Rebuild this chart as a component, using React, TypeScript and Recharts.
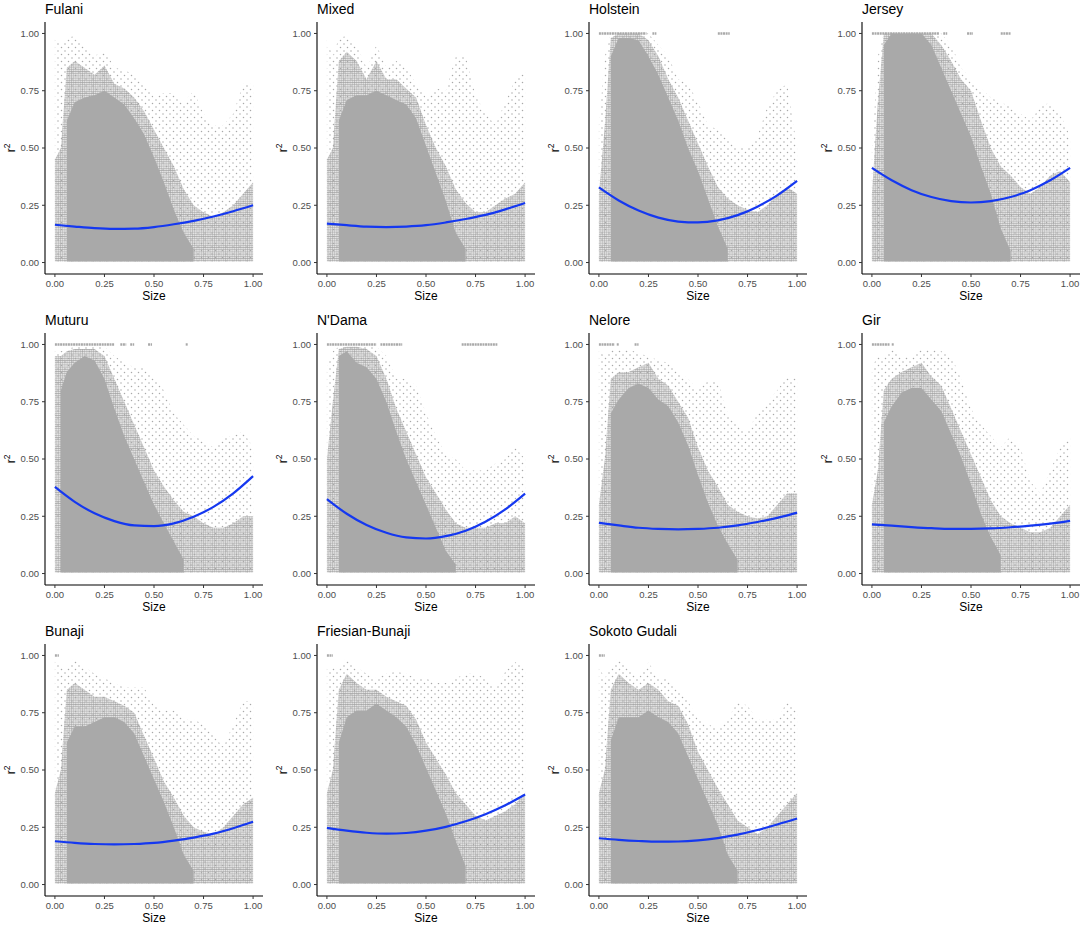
import React from 'react';
import { ComposedChart, Area, Line, XAxis, YAxis, ReferenceLine } from 'recharts';

const FONT = '"Liberation Sans", Arial, Helvetica, sans-serif';
const N = null;

// x positions (Size) at which the cloud envelopes were read
const sizeGrid = [0, 0.03, 0.06, 0.1, 0.15, 0.2, 0.25, 0.3, 0.35, 0.4, 0.45, 0.5, 0.55, 0.6, 0.65, 0.7, 0.75, 0.8, 0.85, 0.9, 0.95, 1.0];
// x positions at which the fitted curve was read
const fitGrid = [0, 0.1, 0.2, 0.3, 0.4, 0.5, 0.6, 0.7, 0.8, 0.9, 1.0];
const axisTicks = [0, 0.25, 0.5, 0.75, 1];

const breeds = ['Fulani', 'Mixed', 'Holstein', 'Jersey', 'Muturu', "N'Dama", 'Nelore', 'Gir', 'Bunaji', 'Friesian-Bunaji', 'Sokoto Gudali'];

// Fulani
const fulaniDense = [N, N, 0.62, 0.70, 0.72, 0.73, 0.75, 0.72, 0.69, 0.63, 0.56, 0.46, 0.35, 0.23, 0.13, 0.06, N, N, N, N, N, N];
const fulaniMedium = [0.45, 0.50, 0.85, 0.88, 0.85, 0.82, 0.86, 0.78, 0.76, 0.72, 0.66, 0.58, 0.50, 0.42, 0.32, 0.25, 0.22, 0.20, 0.22, 0.25, 0.30, 0.35];
const fulaniSparse = [0.98, 0.95, 0.98, 0.99, 0.95, 0.90, 0.93, 0.85, 0.84, 0.82, 0.78, 0.72, 0.74, 0.74, 0.70, 0.75, 0.65, 0.60, 0.60, 0.65, 0.78, 0.78];
const fulaniFit = [0.165, 0.157, 0.150, 0.147, 0.148, 0.155, 0.167, 0.182, 0.201, 0.224, 0.250];
const fulaniBands: number[][] = [];

// Mixed
const mixedDense = [N, N, 0.62, 0.71, 0.73, 0.73, 0.75, 0.73, 0.71, 0.69, 0.63, 0.51, 0.39, 0.27, 0.13, 0.06, N, N, N, N, N, N];
const mixedMedium = [0.45, 0.50, 0.88, 0.92, 0.88, 0.80, 0.88, 0.80, 0.80, 0.76, 0.72, 0.60, 0.50, 0.42, 0.32, 0.26, 0.22, 0.22, 0.25, 0.28, 0.30, 0.35];
const mixedSparse = [0.97, 0.90, 0.98, 0.99, 0.95, 0.85, 0.95, 0.85, 0.88, 0.85, 0.78, 0.72, 0.76, 0.75, 0.90, 0.90, 0.73, 0.65, 0.60, 0.70, 0.80, 0.83];
const mixedFit = [0.170, 0.163, 0.157, 0.155, 0.157, 0.163, 0.175, 0.190, 0.208, 0.232, 0.260];
const mixedBands: number[][] = [];

// Holstein
const holsteinDense = [N, N, 0.90, 0.98, 0.98, 0.97, 0.90, 0.82, 0.72, 0.62, 0.50, 0.40, 0.28, 0.16, 0.06, N, N, N, N, N, N, N];
const holsteinMedium = [0.30, 0.60, 0.98, 1.00, 1.00, 1.00, 0.97, 0.90, 0.80, 0.72, 0.62, 0.52, 0.42, 0.33, 0.28, 0.25, 0.23, 0.22, 0.25, 0.30, 0.33, 0.30];
const holsteinSparse = [0.60, 0.90, 1.00, 1.00, 1.00, 1.00, 1.00, 0.95, 0.90, 0.80, 0.78, 0.70, 0.60, 0.58, 0.55, 0.50, 0.50, 0.55, 0.68, 0.75, 0.78, 0.50];
const holsteinFit = [0.328, 0.271, 0.227, 0.196, 0.179, 0.175, 0.184, 0.207, 0.244, 0.293, 0.356];
const holsteinBands = [[0, 0.24], [0.27, 0.29], [0.6, 0.66]];

// Jersey
const jerseyDense = [N, N, 0.95, 1.00, 1.00, 1.00, 1.00, 0.95, 0.85, 0.75, 0.65, 0.55, 0.42, 0.30, 0.15, 0.05, N, N, N, N, N, N];
const jerseyMedium = [0.30, 0.70, 1.00, 1.00, 1.00, 1.00, 1.00, 1.00, 0.95, 0.88, 0.80, 0.75, 0.62, 0.50, 0.42, 0.38, 0.33, 0.30, 0.33, 0.38, 0.40, 0.35];
const jerseySparse = [0.50, 0.90, 1.00, 1.00, 1.00, 1.00, 1.00, 1.00, 1.00, 0.95, 0.85, 0.80, 0.76, 0.72, 0.70, 0.68, 0.65, 0.62, 0.68, 0.70, 0.65, 0.55];
const jerseyFit = [0.413, 0.359, 0.316, 0.286, 0.268, 0.262, 0.268, 0.286, 0.316, 0.359, 0.413];
const jerseyBands = [[0, 0.34], [0.36, 0.38], [0.48, 0.51], [0.65, 0.7]];

// Muturu
const muturuDense = [N, 0.80, 0.88, 0.92, 0.95, 0.93, 0.85, 0.72, 0.60, 0.50, 0.40, 0.30, 0.22, 0.14, 0.06, N, N, N, N, N, N, N];
const muturuMedium = [0.95, 0.95, 0.97, 0.98, 0.98, 0.98, 0.95, 0.85, 0.75, 0.65, 0.55, 0.45, 0.38, 0.32, 0.27, 0.25, 0.22, 0.20, 0.20, 0.22, 0.25, 0.25];
const muturuSparse = [0.97, 0.97, 0.98, 0.99, 0.99, 0.99, 0.99, 0.95, 0.92, 0.90, 0.90, 0.85, 0.80, 0.70, 0.65, 0.60, 0.58, 0.55, 0.60, 0.60, 0.62, 0.55];
const muturuFit = [0.378, 0.313, 0.263, 0.229, 0.210, 0.207, 0.219, 0.248, 0.291, 0.350, 0.425];
const muturuBands = [[0, 0.3], [0.33, 0.36], [0.38, 0.4], [0.47, 0.49], [0.66, 0.67]];

// N'Dama
const ndamaDense = [N, N, 0.95, 0.97, 0.92, 0.90, 0.85, 0.75, 0.62, 0.50, 0.40, 0.30, 0.20, 0.10, 0.04, N, N, N, N, N, N, N];
const ndamaMedium = [0.50, 0.75, 0.98, 0.99, 0.99, 0.98, 0.95, 0.85, 0.72, 0.62, 0.52, 0.42, 0.35, 0.28, 0.22, 0.20, 0.20, 0.20, 0.22, 0.22, 0.25, 0.22];
const ndamaSparse = [0.90, 0.97, 0.99, 0.99, 0.99, 0.99, 0.99, 0.95, 0.85, 0.85, 0.82, 0.70, 0.60, 0.52, 0.50, 0.45, 0.45, 0.45, 0.48, 0.50, 0.55, 0.50];
const ndamaFit = [0.325, 0.261, 0.212, 0.178, 0.158, 0.153, 0.163, 0.187, 0.226, 0.280, 0.349];
const ndamaBands = [[0, 0.25], [0.27, 0.38], [0.68, 0.86]];

// Nelore
const neloreDense = [N, N, 0.70, 0.76, 0.81, 0.83, 0.81, 0.76, 0.73, 0.66, 0.56, 0.43, 0.31, 0.21, 0.13, 0.06, N, N, N, N, N, N];
const neloreMedium = [0.30, 0.50, 0.85, 0.88, 0.88, 0.90, 0.92, 0.85, 0.82, 0.75, 0.68, 0.55, 0.45, 0.38, 0.30, 0.27, 0.25, 0.24, 0.25, 0.30, 0.35, 0.35];
const neloreSparse = [0.97, 0.95, 0.98, 0.98, 0.98, 0.96, 0.95, 0.93, 0.92, 0.88, 0.85, 0.80, 0.84, 0.84, 0.70, 0.65, 0.62, 0.70, 0.75, 0.80, 0.86, 0.85];
const neloreFit = [0.221, 0.210, 0.200, 0.195, 0.193, 0.195, 0.200, 0.210, 0.225, 0.243, 0.266];
const neloreBands = [[0, 0.08], [0.09, 0.1], [0.18, 0.2]];

// Gir
const girDense = [N, N, 0.66, 0.73, 0.79, 0.81, 0.81, 0.76, 0.71, 0.61, 0.51, 0.39, 0.26, 0.16, 0.08, N, N, N, N, N, N, N];
const girMedium = [0.30, 0.45, 0.80, 0.85, 0.88, 0.90, 0.92, 0.86, 0.82, 0.72, 0.62, 0.52, 0.42, 0.32, 0.25, 0.22, 0.20, 0.18, 0.18, 0.20, 0.25, 0.30];
const girSparse = [0.90, 0.95, 0.95, 0.98, 0.95, 0.95, 0.98, 0.98, 0.97, 0.95, 0.85, 0.72, 0.65, 0.60, 0.55, 0.60, 0.55, 0.40, 0.35, 0.45, 0.55, 0.60];
const girFit = [0.215, 0.209, 0.203, 0.198, 0.195, 0.195, 0.197, 0.202, 0.209, 0.218, 0.230];
const girBands = [[0, 0.09], [0.1, 0.11]];

// Bunaji
const bunajiDense = [N, N, 0.62, 0.69, 0.69, 0.71, 0.73, 0.73, 0.71, 0.66, 0.56, 0.46, 0.36, 0.25, 0.13, 0.06, N, N, N, N, N, N];
const bunajiMedium = [0.40, 0.50, 0.85, 0.88, 0.85, 0.82, 0.82, 0.80, 0.78, 0.75, 0.65, 0.55, 0.45, 0.38, 0.30, 0.25, 0.23, 0.22, 0.25, 0.30, 0.35, 0.38];
const bunajiSparse = [0.98, 0.95, 0.95, 0.99, 0.95, 0.92, 0.90, 0.88, 0.86, 0.86, 0.86, 0.78, 0.76, 0.76, 0.72, 0.72, 0.70, 0.65, 0.60, 0.70, 0.80, 0.80];
const bunajiFit = [0.189, 0.182, 0.177, 0.175, 0.177, 0.182, 0.192, 0.205, 0.222, 0.246, 0.274];
const bunajiBands = [[0, 0.02]];

// Friesian-Bunaji
const friesianDense = [N, N, 0.62, 0.73, 0.76, 0.76, 0.79, 0.76, 0.73, 0.69, 0.61, 0.51, 0.41, 0.31, 0.19, 0.08, N, N, N, N, N, N];
const friesianMedium = [0.40, 0.50, 0.85, 0.92, 0.88, 0.85, 0.85, 0.82, 0.80, 0.78, 0.72, 0.62, 0.55, 0.48, 0.40, 0.35, 0.30, 0.28, 0.30, 0.32, 0.35, 0.40];
const friesianSparse = [0.95, 0.95, 0.95, 0.99, 0.95, 0.92, 0.90, 0.92, 0.93, 0.92, 0.90, 0.90, 0.88, 0.88, 0.90, 0.92, 0.92, 0.90, 0.85, 0.93, 0.97, 0.95];
const friesianFit = [0.247, 0.235, 0.226, 0.222, 0.225, 0.235, 0.252, 0.276, 0.307, 0.346, 0.393];
const friesianBands = [[0, 0.03]];

// Sokoto Gudali
const sokotoDense = [N, N, 0.63, 0.73, 0.73, 0.73, 0.76, 0.73, 0.71, 0.66, 0.56, 0.46, 0.36, 0.26, 0.13, 0.06, N, N, N, N, N, N];
const sokotoMedium = [0.40, 0.50, 0.85, 0.92, 0.88, 0.85, 0.88, 0.85, 0.80, 0.78, 0.70, 0.58, 0.50, 0.42, 0.35, 0.28, 0.25, 0.22, 0.25, 0.30, 0.35, 0.40];
const sokotoSparse = [0.95, 0.90, 0.95, 0.99, 0.95, 0.90, 0.97, 0.90, 0.90, 0.85, 0.80, 0.72, 0.70, 0.68, 0.72, 0.80, 0.78, 0.72, 0.72, 0.72, 0.80, 0.76];
const sokotoFit = [0.202, 0.195, 0.190, 0.187, 0.188, 0.193, 0.203, 0.218, 0.238, 0.262, 0.288];
const sokotoBands = [[0, 0.03]];

const panels = [
  { dense: fulaniDense, medium: fulaniMedium, sparse: fulaniSparse, fit: fulaniFit, bands: fulaniBands },
  { dense: mixedDense, medium: mixedMedium, sparse: mixedSparse, fit: mixedFit, bands: mixedBands },
  { dense: holsteinDense, medium: holsteinMedium, sparse: holsteinSparse, fit: holsteinFit, bands: holsteinBands },
  { dense: jerseyDense, medium: jerseyMedium, sparse: jerseySparse, fit: jerseyFit, bands: jerseyBands },
  { dense: muturuDense, medium: muturuMedium, sparse: muturuSparse, fit: muturuFit, bands: muturuBands },
  { dense: ndamaDense, medium: ndamaMedium, sparse: ndamaSparse, fit: ndamaFit, bands: ndamaBands },
  { dense: neloreDense, medium: neloreMedium, sparse: neloreSparse, fit: neloreFit, bands: neloreBands },
  { dense: girDense, medium: girMedium, sparse: girSparse, fit: girFit, bands: girBands },
  { dense: bunajiDense, medium: bunajiMedium, sparse: bunajiSparse, fit: bunajiFit, bands: bunajiBands },
  { dense: friesianDense, medium: friesianMedium, sparse: friesianSparse, fit: friesianFit, bands: friesianBands },
  { dense: sokotoDense, medium: sokotoMedium, sparse: sokotoSparse, fit: sokotoFit, bands: sokotoBands },
];

const PW = 272;
const PH = 311;
const colLeft = [0, 272, 544, 817];
const rowTop = [0, 311, 622];
const LOW = 0.005;
const POINT_GREY = '#A9A9A9';

const fmt = (v: number) => v.toFixed(2);

function buildRows(p: any) {
  return sizeGrid.map((x, i) => {
    const fi = fitGrid.findIndex((f) => Math.abs(f - x) < 1e-9);
    return {
      x,
      sparse: [LOW, p.sparse[i]],
      medium: [LOW, p.medium[i]],
      dense: p.dense[i] == null ? null : [LOW, p.dense[i]],
      fit: fi >= 0 ? p.fit[fi] : null,
    };
  });
}

function Panel({ name, p, left, top }: { name: string; p: any; left: number; top: number }) {
  const rows = buildRows(p);
  const tickStyle = { fill: '#4D4D4D', fontSize: 9.5, fontFamily: FONT };
  return (
    <div style={{ position: 'absolute', left, top, width: PW, height: PH }}>
      <ComposedChart width={PW} height={PH} data={rows} margin={{ top: 22, right: 9, bottom: 0, left: 0 }}>
        <XAxis
          type="number"
          dataKey="x"
          domain={[-0.05, 1.05]}
          ticks={axisTicks}
          interval={0}
          tickFormatter={fmt}
          allowDataOverflow
          height={37}
          axisLine={{ stroke: '#000', strokeWidth: 1.1 }}
          tickLine={{ stroke: '#333', strokeWidth: 1 }}
          tickSize={3}
          tickMargin={3}
          tick={tickStyle}
        />
        <YAxis
          type="number"
          domain={[-0.05, 1.05]}
          ticks={axisTicks}
          interval={0}
          tickFormatter={fmt}
          allowDataOverflow
          width={45}
          axisLine={{ stroke: '#000', strokeWidth: 1.1 }}
          tickLine={{ stroke: '#333', strokeWidth: 1 }}
          tickSize={3}
          tickMargin={3}
          tick={tickStyle}
        />
        <Area dataKey="sparse" type="linear" stroke="none" fill="url(#sparseDots)" fillOpacity={1} isAnimationActive={false} />
        <Area dataKey="medium" type="linear" stroke="none" fill="url(#mediumDots)" fillOpacity={1} isAnimationActive={false} />
        <Area dataKey="dense" type="linear" stroke="none" fill={POINT_GREY} fillOpacity={1} isAnimationActive={false} />
        {p.bands.map((b: number[], i: number) => (
          <ReferenceLine
            key={i}
            segment={[{ x: b[0], y: 1 }, { x: b[1], y: 1 }]}
            stroke={POINT_GREY}
            strokeWidth={2.4}
            strokeDasharray="2 0.6"
            ifOverflow="visible"
          />
        ))}
        <Line dataKey="fit" type="monotone" stroke="#1538F0" strokeWidth={2.2} dot={false} connectNulls isAnimationActive={false} />
      </ComposedChart>
      <svg width={PW} height={PH} style={{ position: 'absolute', left: 0, top: 0, pointerEvents: 'none' }}>
        <text x={45} y={14} fontSize={14} fontFamily={FONT} fill="#000">{name}</text>
        <text x={154} y={300} fontSize={12} fontFamily={FONT} fill="#000" textAnchor="middle">Size</text>
        <text transform="translate(15,148) rotate(-90)" fontSize={12} fontFamily={FONT} fill="#000" textAnchor="middle">
          <tspan>r</tspan>
          <tspan fontSize={8.5} dy={-5}>2</tspan>
        </text>
      </svg>
    </div>
  );
}

export default function App() {
  return (
    <div style={{ position: 'absolute', left: 0, top: 0, width: 1084, height: 926, background: '#fff', overflow: 'hidden' }}>
      <svg width={1} height={1} style={{ position: 'absolute', left: 0, top: 0 }}>
        <defs>
          <pattern id="mediumDots" width={2.2} height={2.2} patternUnits="userSpaceOnUse">
            <circle cx={1.1} cy={1.1} r={1.0} fill={POINT_GREY} />
          </pattern>
          <pattern id="sparseDots" width={7} height={7} patternUnits="userSpaceOnUse">
            <circle cx={2} cy={2} r={0.75} fill={POINT_GREY} />
            <circle cx={5.5} cy={5.5} r={0.75} fill={POINT_GREY} />
          </pattern>
        </defs>
      </svg>
      {breeds.map((name, i) => (
        <Panel key={name} name={name} p={panels[i]} left={colLeft[i % 4]} top={rowTop[Math.floor(i / 4)]} />
      ))}
    </div>
  );
}
